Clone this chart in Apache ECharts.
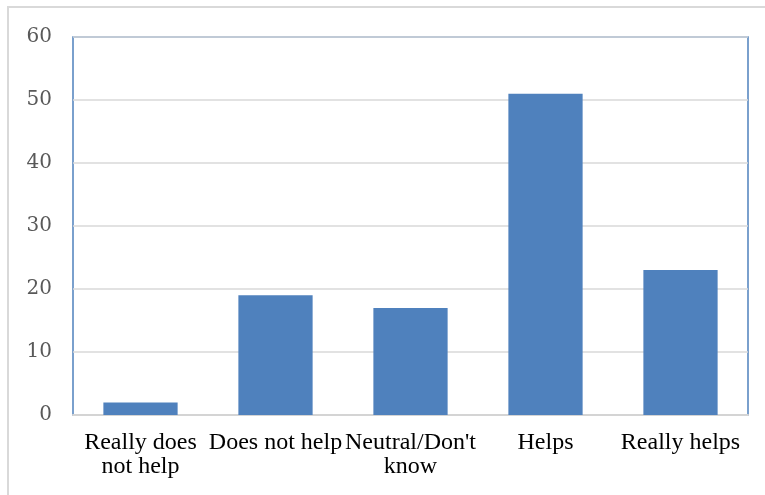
<!DOCTYPE html>
<html>
<head>
<meta charset="utf-8">
<script src="https://cdn.jsdelivr.net/npm/echarts@6/dist/echarts.min.js"></script>
<style>
  html, body { margin: 0; padding: 0; background: #fff; }
  #chart { width: 765px; height: 495px; }
</style>
</head>
<body>
<div id="chart"></div>
<script>
// Responses per answer category
const categories = ['Really does\nnot help', 'Does not help', "Neutral/Don't\nknow", 'Helps', 'Really helps'];
const counts = [2, 19, 17, 51, 23];
const yTicks = { min: 0, max: 60, interval: 10 };

const chart = echarts.init(document.getElementById('chart'));
chart.setOption({
  animation: false,
  backgroundColor: '#ffffff',
  graphic: [{
    type: 'rect',
    shape: { x: 8, y: 7, width: 800, height: 600 },
    style: { fill: 'none', stroke: '#d9d9d9', lineWidth: 2 },
    silent: true
  }],
  grid: {
    left: 73, right: 17, top: 37, bottom: 80,
    show: true, borderColor: '#4f81bd', borderWidth: 1.5, backgroundColor: 'transparent'
  },
  xAxis: {
    type: 'category',
    data: categories,
    axisLine: { lineStyle: { color: '#d4d4d4', width: 2 } },
    axisTick: { show: false },
    axisLabel: {
      interval: 0, margin: 16, color: '#000000',
      fontFamily: 'Liberation Serif', fontSize: 24, lineHeight: 24
    }
  },
  yAxis: {
    type: 'value',
    min: yTicks.min, max: yTicks.max, interval: yTicks.interval,
    axisLine: { show: false },
    axisTick: { show: false },
    splitLine: { lineStyle: { color: '#d9d9d9', width: 1.5 } },
    axisLabel: {
      margin: 21, color: '#595959',
      fontFamily: 'DejaVu Serif', fontSize: 20
    }
  },
  series: [{
    type: 'bar',
    data: counts,
    barWidth: '55%',
    itemStyle: { color: '#4f81bd' }
  }]
});
</script>
</body>
</html>
